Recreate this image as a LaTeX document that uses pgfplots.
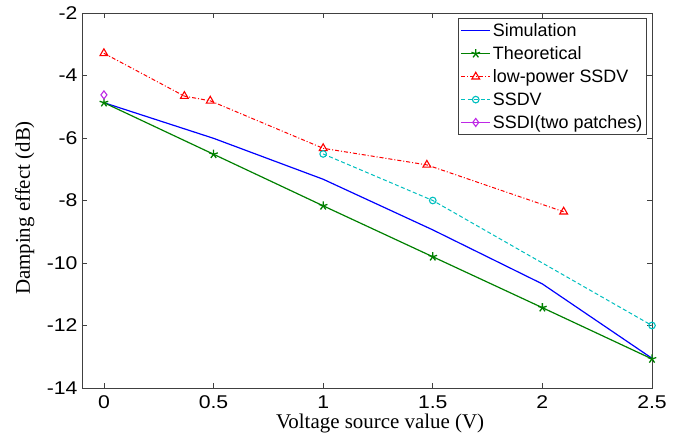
\documentclass[border=0pt]{standalone}
\usepackage{pgfplots}
\pgfplotsset{compat=1.18}
\usepackage{fontspec}
\setmainfont{Liberation Serif}
\setsansfont{Liberation Sans}
\newfontfamily\tickfont{Liberation Sans}[FakeStretch=1.15]
\definecolor{mblue}{rgb}{0,0,1}
\definecolor{mgreen}{rgb}{0,0.5,0}
\definecolor{mred}{rgb}{1,0,0}
\definecolor{mcyan}{rgb}{0,0.75,0.75}
\definecolor{mmag}{RGB}{190,40,230}
\definecolor{axgray}{gray}{0.25}
\begin{document}
\begin{tikzpicture}
\path[use as bounding box] (-82bp,-55bp) rectangle (596bp,388bp);
\begin{axis}[
  at={(0,0)}, anchor=south west,
  scale only axis, width=570bp, height=375bp,
  xmin=-0.1, xmax=2.5, ymin=-14, ymax=-2,
  xtick={0,0.5,1,1.5,2,2.5},
  ytick={-14,-12,-10,-8,-6,-4,-2},
  tick align=inside, tick pos=both,
  major tick length=5bp,
  axis line style={axgray, line width=0.8bp},
  every tick/.style={axgray, line width=0.8bp},
  /pgf/number format/assume math mode=true,
  ticklabel style={font=\tickfont\fontsize{18.5}{20}\selectfont, text=black},
  xticklabel style={yshift=-4bp},
  yticklabel style={xshift=-1bp},
  xlabel={Voltage source value (V)},
  ylabel={Damping effect (dB)},
  label style={font=\rmfamily\fontsize{21}{24}\selectfont},
  xlabel style={at={(axis description cs:0.523,0)}, anchor=north, yshift=-22bp},
  ylabel style={at={(axis description cs:0,0.48)}, anchor=south, yshift=44bp},
  legend style={at={(axis cs:2.476,-2.16)}, anchor=north east,
    font=\sffamily\fontsize{18}{20}\selectfont, draw=axgray, line width=0.8bp,
    inner xsep=2bp, inner ysep=3bp, row sep=4.6bp},
  legend cell align=left,
  legend image code/.code={\draw[mark repeat=2,mark phase=2,#1] plot coordinates {(0bp,0bp) (14.5bp,0bp) (29bp,0bp)};},
]
\addplot[mblue, line width=1.2bp, mark=none] coordinates {
 (0,-4.87) (0.5,-6.01) (1,-7.32) (1.5,-8.94) (2,-10.67) (2.5,-13.05)};
\addlegendentry{Simulation}
\addplot[mgreen, line width=1.2bp, mark=star, mark size=4.5bp, mark options={line width=1.3bp}] coordinates {
 (0,-4.87) (0.5,-6.52) (1,-8.17) (1.5,-9.80) (2,-11.43) (2.5,-13.07)};
\addlegendentry{Theoretical}
\addplot[mred, line width=1bp, dash pattern=on 4bp off 2bp on 1bp off 2bp, mark=triangle, mark size=4.5bp, mark options={solid, line width=1.1bp}] coordinates {
 (0,-3.29) (0.367,-4.66) (0.485,-4.81) (1,-6.33) (1.473,-6.86) (2.097,-8.36)};
\addlegendentry{low-power SSDV}
\addplot[mcyan, line width=1bp, dash pattern=on 4bp off 2.5bp, mark=o, mark size=3.3bp, mark options={solid, line width=1.1bp}] coordinates {
 (1,-6.51) (1.5,-8.0) (2.5,-12.0)};
\addlegendentry{SSDV}
\addplot[mmag, line width=1bp, mark=diamond, mark size=4bp, mark options={solid, line width=1.1bp}] coordinates {
 (0,-4.62)};
\addlegendentry{SSDI(two patches)}
\end{axis}
\end{tikzpicture}
\end{document}
